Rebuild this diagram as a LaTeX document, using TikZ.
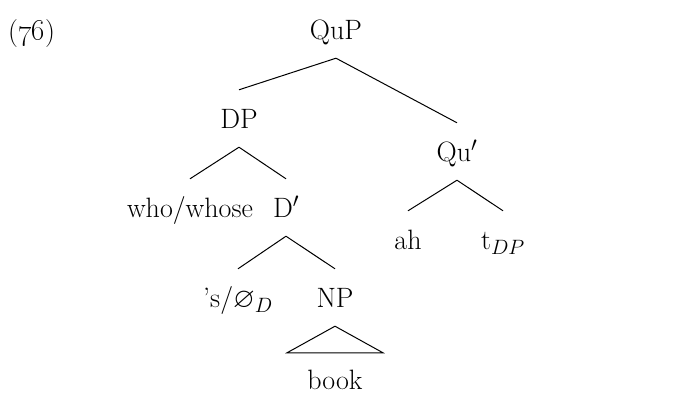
\documentclass[tikz,border=0pt]{standalone}
\usepackage{amssymb}

\begin{document}
\begin{tikzpicture}[x=1pt,y=-1pt]
\tikzstyle{cat}=[anchor=base,inner xsep=0pt,inner ysep=19pt,text height=19pt,text depth=0pt,font=\fontsize{28}{32}\selectfont]
\tikzstyle{branch}=[draw=black,line width=1pt]
\useasboundingbox (0,0) rectangle (674,394);

% Example number
\node[anchor=base west,inner sep=0pt,font=\fontsize{28}{32}\selectfont] (num) at (8,40) {(\oldstylenums{76})};

% Write the categories
\node[cat] (QuP) at (336,39) {QuP};
\node[cat] (DP) at (239,128) {DP};
\node[cat] (Qu) at (457,161) {Qu$'$};
\node[cat] (who) at (190,217) {who/whose};
\node[cat] (Dbar) at (286,217) {D$'$};
\node[cat] (ah) at (408,249) {ah};
\node[cat] (t) at (503,249) {t$_{DP}$};
\node[cat] (s) at (238,307) {’s/$\varnothing_D$};
\node[cat] (NP) at (335,307) {NP};
\node[cat] (book) at (335,389) {book};

% Draw the branches
\foreach \parent/\child in {QuP/DP,QuP/Qu,DP/who,DP/Dbar,Dbar/s,Dbar/NP,Qu/ah,Qu/t}
\path[branch] (\parent.south) edge (\child.north);

% Roof over the NP
\draw[branch] (NP.south) -- ([xshift=-48pt,yshift=-2pt]book.north) -- ([xshift=48pt,yshift=-2pt]book.north) -- cycle;

\end{tikzpicture}
\end{document}
